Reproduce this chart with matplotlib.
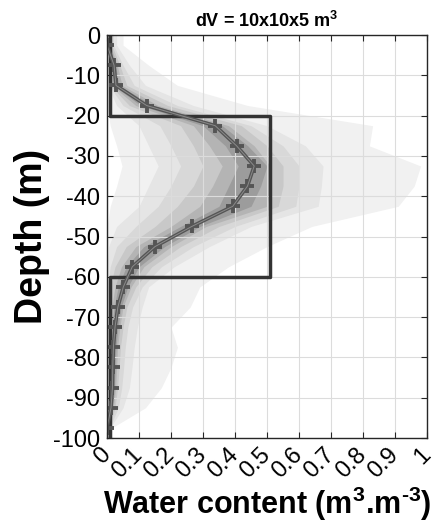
import numpy as np
import matplotlib
matplotlib.use("Agg")
import matplotlib.pyplot as plt

plt.rcParams['font.family'] = ['Liberation Sans', 'DejaVu Sans']
plt.rcParams['mathtext.fontset'] = 'custom'
plt.rcParams['mathtext.rm'] = 'Liberation Sans:bold'
plt.rcParams['mathtext.bf'] = 'Liberation Sans:bold'
plt.rcParams['mathtext.default'] = 'bf'
plt.rcParams['axes.unicode_minus'] = False

# profondeur des cellules (m)
depth = [-2.5, -7.5, -12.5, -17.5, -22.5, -27.5, -32.5, -37.5, -42.5, -47.5,
         -52.5, -57.5, -62.5, -67.5, -72.5, -77.5, -82.5, -87.5, -92.5, -97.5]

# teneur en eau moyenne
mean_wc = [0.0, 0.022, 0.028, 0.124, 0.338, 0.405, 0.46, 0.439, 0.393, 0.265,
           0.15, 0.079, 0.051, 0.034, 0.025, 0.02, 0.018, 0.017, 0.0125, 0.0]

# enveloppes (de la plus large a la plus etroite)
lo1 = [0, 0, 0, 0, 0.01, 0.03, 0.047, 0.03, 0.01, 0, 0, 0, 0, 0, 0, 0, 0, 0, 0, 0]
hi1 = [0.05, 0.13, 0.22, 0.44, 0.83, 0.82, 0.98, 0.96, 0.91, 0.64,
       0.50, 0.38, 0.29, 0.26, 0.20, 0.22, 0.20, 0.17, 0.12, 0.015]
lo2 = [0, 0, 0.002, 0.03, 0.10, 0.13, 0.16, 0.13, 0.10, 0.03,
       0.005, 0, 0, 0, 0, 0, 0, 0, 0, 0]
hi2 = [0.03, 0.07, 0.12, 0.27, 0.50, 0.62, 0.675, 0.67, 0.66, 0.45,
       0.32, 0.21, 0.13, 0.11, 0.095, 0.085, 0.078, 0.07, 0.05, 0.01]
lo3 = [0, 0.004, 0.006, 0.05, 0.165, 0.20, 0.23, 0.20, 0.16, 0.09,
       0.03, 0.01, 0.002, 0, 0, 0, 0, 0, 0, 0]
hi3 = [0.02, 0.05, 0.085, 0.22, 0.45, 0.55, 0.60, 0.60, 0.59, 0.40,
       0.27, 0.17, 0.11, 0.08, 0.065, 0.057, 0.052, 0.046, 0.035, 0.008]
lo4 = [0, 0.008, 0.01, 0.07, 0.23, 0.27, 0.30, 0.27, 0.22, 0.15,
       0.06, 0.025, 0.01, 0.005, 0.003, 0.002, 0.002, 0.002, 0.001, 0]
hi4 = [0.015, 0.04, 0.062, 0.19, 0.42, 0.50, 0.55, 0.55, 0.535, 0.35,
       0.23, 0.14, 0.09, 0.062, 0.05, 0.042, 0.038, 0.033, 0.025, 0.006]
lo5 = [0, 0.012, 0.015, 0.09, 0.27, 0.32, 0.36, 0.33, 0.29, 0.20,
       0.09, 0.045, 0.025, 0.015, 0.01, 0.008, 0.007, 0.006, 0.004, 0]
hi5 = [0.01, 0.032, 0.047, 0.16, 0.38, 0.46, 0.51, 0.51, 0.50, 0.31,
       0.20, 0.115, 0.075, 0.05, 0.04, 0.033, 0.03, 0.027, 0.02, 0.004]
lo6 = [0, 0.016, 0.02, 0.105, 0.30, 0.37, 0.41, 0.38, 0.35, 0.23,
       0.115, 0.06, 0.035, 0.022, 0.016, 0.013, 0.011, 0.01, 0.007, 0]
hi6 = [0.006, 0.027, 0.037, 0.145, 0.36, 0.44, 0.50, 0.48, 0.45, 0.29,
       0.18, 0.10, 0.065, 0.044, 0.034, 0.028, 0.025, 0.023, 0.017, 0.002]

# modele vrai
true_wc = [0.01, 0.01, 0.51, 0.51, 0.01, 0.01]
true_z = [0, -20, -20, -60, -60, -100]

band_colors = ['#f1f1f1', '#e5e5e5', '#d8d8d8', '#c8c8c8', '#b4b4b4', '#9c9c9c']

fig = plt.figure(figsize=(4.35, 5.25), dpi=100)
ax = fig.add_axes([0.246, 0.1657, 0.7356, 0.7676])

z = np.r_[0, depth, -100]
bands = [(lo1, hi1), (lo2, hi2), (lo3, hi3), (lo4, hi4), (lo5, hi5), (lo6, hi6)]
for (lo, hi), c in zip(bands, band_colors):
    lo_ext = np.r_[lo[0], lo, lo[-1]]
    hi_ext = np.r_[hi[0], hi, hi[-1]]
    ax.fill_betweenx(z, lo_ext, hi_ext, color=c, lw=0, zorder=1)

ax.plot(true_wc, true_z, color='#333333', lw=2.5, zorder=3)
ax.plot(mean_wc, depth, color='#555555', lw=2.6, marker='+', ms=10, mew=2.8, zorder=4)
ax.plot(mean_wc, depth, color='#8a8a8a', lw=0.7, zorder=5)

ax.set_xlim(0, 1)
ax.set_ylim(-100, 0)
ax.set_xticks(np.arange(0, 1.01, 0.1))
ax.set_xticklabels(['0', '0.1', '0.2', '0.3', '0.4', '0.5', '0.6', '0.7', '0.8', '0.9', '1'],
                   rotation=45, ha='right', va='center', rotation_mode='anchor')
ax.set_yticks(np.arange(-100, 1, 10))
ax.tick_params(direction='in', length=4, top=True, right=True, labelsize=17,
               color='#262626', pad=5)
ax.tick_params(axis='x', pad=10)
ax.grid(True, color='#dcdcdc', lw=0.8, zorder=2)
ax.set_axisbelow(False)
for s in ax.spines.values():
    s.set_color('#262626')
    s.set_linewidth(1)
    s.set_zorder(6)

ax.set_xlabel('Water content (m$^{3}$.m$^{\u20103}$)', fontsize=22, fontweight='bold', labelpad=1)
ax.set_ylabel('Depth (m)', fontsize=27, fontweight='bold', labelpad=2)
ax.set_title(r'dV = 10x10x5 m$^{3}$', fontsize=13, fontweight='bold', pad=6)

fig.savefig('out.png', dpi=100)
